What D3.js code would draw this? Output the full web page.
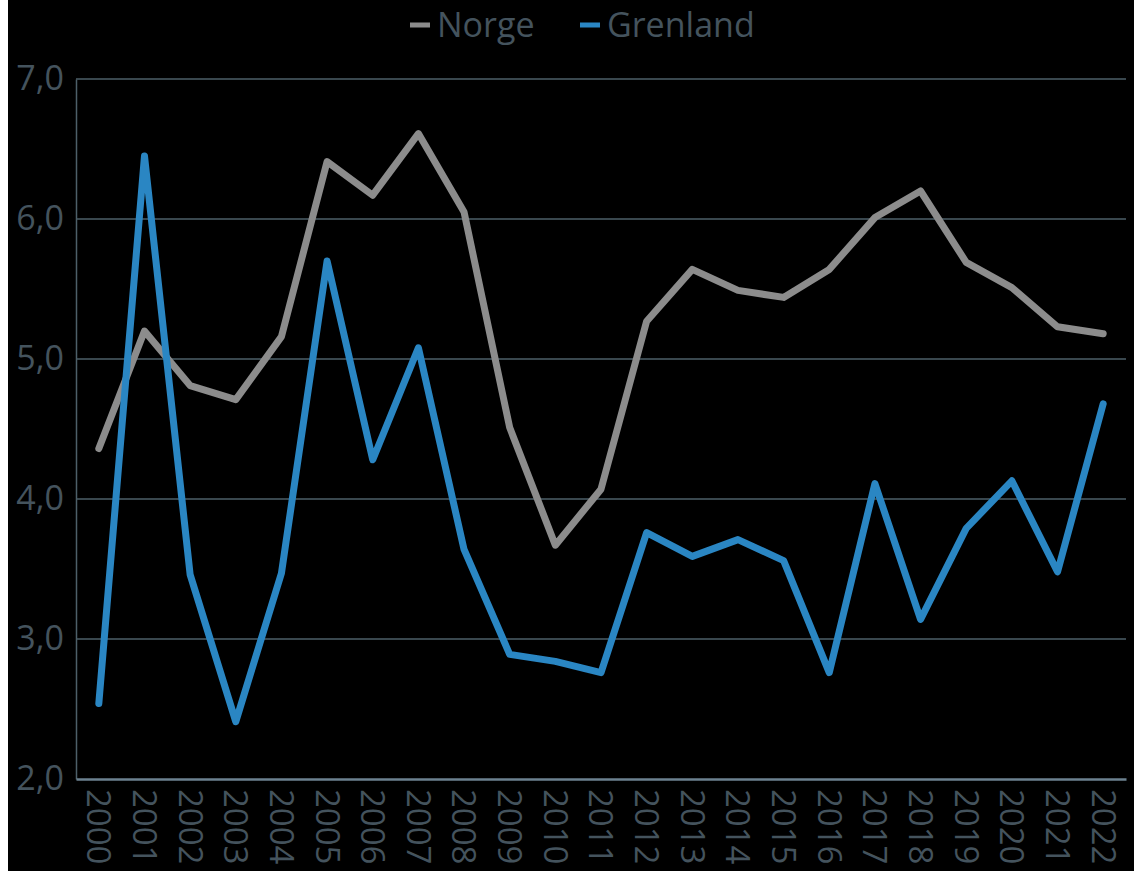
<!DOCTYPE html>
<html>
<head>
<meta charset="utf-8">
<script src="https://cdn.jsdelivr.net/npm/d3@7"></script>
<style>
  html, body { margin: 0; padding: 0; background: #ffffff; overflow: hidden; }
  svg { display: block; }
  text { font-family: "Open Sans", sans-serif; }
</style>
</head>
<body>
<svg id="chart" width="1134" height="871"></svg>
<script>
const years = ["2000","2001","2002","2003","2004","2005","2006","2007","2008","2009","2010","2011","2012","2013","2014","2015","2016","2017","2018","2019","2020","2021","2022"];
const norge = [4.36,5.20,4.81,4.71,5.16,6.41,6.17,6.61,6.05,4.51,3.67,4.07,5.27,5.64,5.49,5.44,5.64,6.01,6.20,5.69,5.51,5.23,5.18];
const grenland = [2.54,6.45,3.46,2.41,3.47,5.70,4.28,5.08,3.64,2.89,2.84,2.76,3.76,3.59,3.71,3.56,2.76,4.11,3.14,3.79,4.13,3.48,4.68];
const yTicks = [2,3,4,5,6,7];
const seriesNames = ["Norge","Grenland"];
const seriesColors = ["#8c8c8c","#2a86c3"];

const svg = d3.select("#chart");
const W = 1134, H = 871;
const m = {left: 76, right: 8, top: 79, bottom: 92};

svg.append("rect").attr("x", 8).attr("y", 0).attr("width", W - 8).attr("height", H).attr("fill", "#000");

const x = d3.scaleBand().domain(years).range([m.left, W - m.right]);
const y = d3.scaleLinear().domain([2, 7]).range([H - m.bottom, m.top]);
const fmt = v => d3.format(".1f")(v).replace(".", ",");

// gridlines
svg.append("g").selectAll("line").data(yTicks.filter(d => d > 2)).join("line")
  .attr("x1", m.left).attr("x2", W - m.right)
  .attr("y1", d => y(d)).attr("y2", d => y(d))
  .attr("stroke", "#4d5f69").attr("stroke-width", 1.3);

// y axis
const yAxis = svg.append("g").attr("transform", `translate(${m.left},0)`)
  .call(d3.axisLeft(y).tickValues(yTicks).tickFormat(fmt).tickSize(0).tickPadding(12));
yAxis.select(".domain").attr("stroke", "#4d5f69").attr("stroke-width", 1.5);
yAxis.selectAll("text").attr("fill", "#44535d").style("font-size", "34px").attr("dy", "0.32em");

// x axis
const xAxis = svg.append("g").attr("transform", `translate(0,${H - m.bottom})`)
  .call(d3.axisBottom(x).tickSize(0).tickPadding(0));
xAxis.select(".domain").attr("stroke", "#6c8290").attr("stroke-width", 2.5);
xAxis.selectAll("text")
  .attr("fill", "#44535d").style("font-size", "33px")
  .attr("transform", "rotate(90)")
  .attr("x", 10).attr("y", 0).attr("dy", "0.35em")
  .attr("text-anchor", "start");

// lines
const line = d3.line().x((d, i) => x(years[i]) + x.bandwidth() / 2).y(d => y(d));
[norge, grenland].forEach((s, k) => {
  svg.append("path").datum(s).attr("d", line)
    .attr("fill", "none").attr("stroke", seriesColors[k])
    .attr("stroke-width", 7).attr("stroke-linejoin", "round").attr("stroke-linecap", "round");
});

// legend
const legend = svg.append("g");
const legendX = [410, 580];
seriesNames.forEach((n, k) => {
  const g = legend.append("g").attr("transform", `translate(${legendX[k]},25)`);
  g.append("line").attr("x1", 0).attr("x2", 20).attr("y1", 0).attr("y2", 0)
    .attr("stroke", seriesColors[k]).attr("stroke-width", 5);
  g.append("text").attr("x", 27).attr("y", 0).attr("dy", "0.35em")
    .attr("fill", "#44535d").style("font-size", "34px").text(n);
});
</script>
</body>
</html>
